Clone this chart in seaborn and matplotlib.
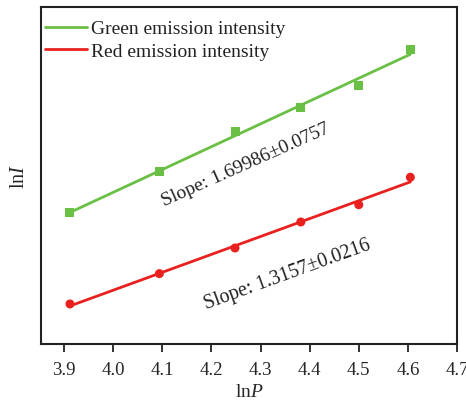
import numpy as np
import pandas as pd
import matplotlib
matplotlib.use("Agg")
import matplotlib.pyplot as plt
import seaborn as sns

# Data
lnP = [3.912, 4.094, 4.248, 4.382, 4.500, 4.605]
green_lnI = [0.977, 1.278, 1.575, 1.758, 1.921, 2.188]
red_lnI = [0.297, 0.522, 0.712, 0.905, 1.033, 1.237]
series_names = ["Green emission intensity", "Red emission intensity"]
slope_labels = ["Slope: 1.69986\u00b10.0757", "Slope: 1.3157\u00b10.0216"]
x_ticks = [3.9, 4.0, 4.1, 4.2, 4.3, 4.4, 4.5, 4.6, 4.7]

sns.set_theme(style="white")
plt.rcParams['font.family'] = ['Liberation Serif', 'DejaVu Serif']
plt.rcParams['mathtext.fontset'] = 'custom'
plt.rcParams['mathtext.rm'] = 'Liberation Serif'
plt.rcParams['mathtext.it'] = 'Liberation Serif:italic'

df = pd.DataFrame({"lnP": lnP, "green": green_lnI, "red": red_lnI})

fig = plt.figure(figsize=(4.66, 4.06), dpi=100)
ax = fig.add_axes([41/466, 1 - 345/406, (457 - 41)/466, (345 - 8)/406])

GREEN = "#6abf45"
RED = "#e8211f"

for col, color, marker, name in [("green", GREEN, "s", series_names[0]),
                                 ("red", RED, "o", series_names[1])]:
    sns.scatterplot(data=df, x="lnP", y=col, ax=ax, color=color, marker=marker,
                    s=42, edgecolor="none", zorder=3)
    k, b = np.polyfit(df["lnP"], df[col], 1)
    xs = np.array([df["lnP"].min(), df["lnP"].max()])
    ax.plot(xs, k * xs + b, color=color, lw=2, label=name, zorder=2)

ax.set_xlim(3.853, 4.7)
ax.set_ylim(0, 2.5)
ax.set_xticks(x_ticks)
ax.set_xticklabels([f"{t:.1f}" for t in x_ticks], fontsize=13.5)
ax.set_yticks([])
ax.tick_params(axis="x", direction="out", length=6, width=1.3, color="#222222",
               bottom=True, pad=6)
for sp in ax.spines.values():
    sp.set_color("#222222")
    sp.set_linewidth(1.5)

ax.set_xlabel(r"ln$\mathit{P}$", fontsize=14, labelpad=4)
ax.set_ylabel(r"ln$\mathit{I}$", fontsize=14.5, labelpad=9)

leg = ax.legend(loc="upper left", bbox_to_anchor=(-0.022, 1.0), frameon=False,
                fontsize=14, handlelength=2.2, handletextpad=0.2,
                borderaxespad=0.36, labelspacing=0.25, borderpad=0.3)
for t in leg.get_texts():
    t.set_color("#222222")

ax.text(4.27, 1.335, slope_labels[0], rotation=24, fontsize=14,
        ha="center", va="center", color="#222222", rotation_mode="anchor")
ax.text(4.354, 0.519, slope_labels[1], rotation=20, fontsize=14.3,
        ha="center", va="center", color="#222222", rotation_mode="anchor")

fig.savefig("out.png", dpi=100)
